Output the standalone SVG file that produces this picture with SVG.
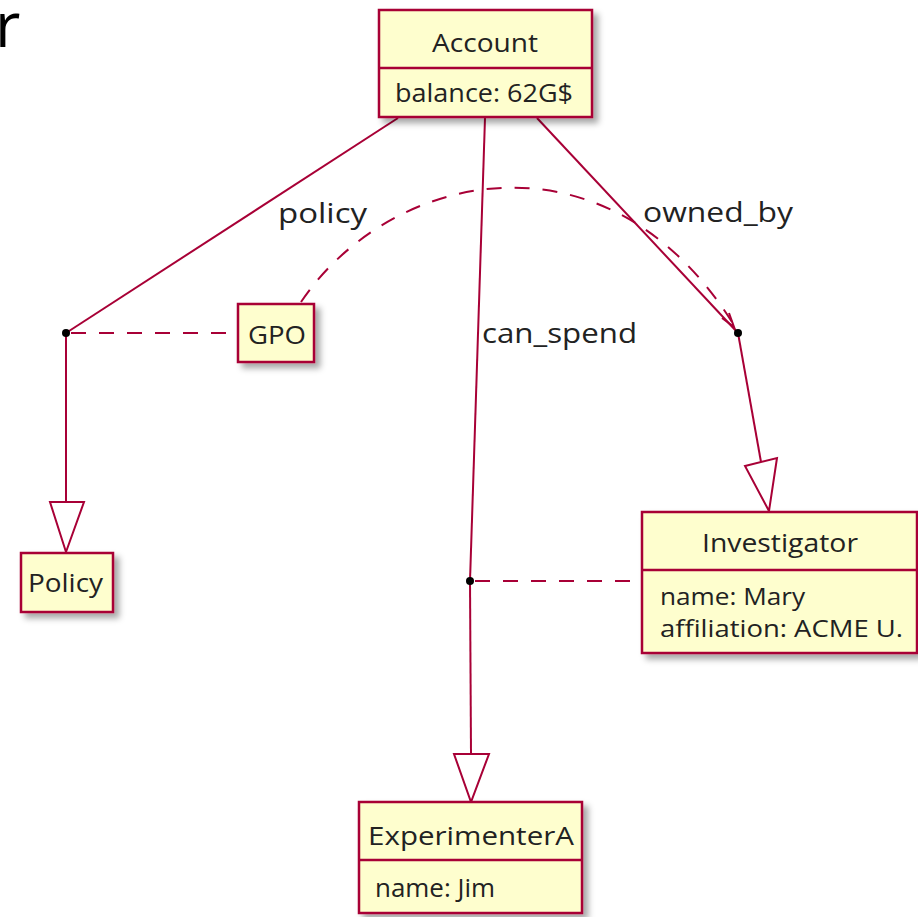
<svg xmlns="http://www.w3.org/2000/svg" width="918" height="917" viewBox="0 0 918 917">
<defs>
<filter id="sh" x="-10%" y="-10%" width="130%" height="140%">
<feDropShadow dx="5" dy="5" stdDeviation="3" flood-color="#000" flood-opacity="0.35"/>
</filter>
</defs>
<style>
.box{fill:#FEFECE;stroke:#A80036;stroke-width:2.5;filter:url(#sh)}
.div{stroke:#A80036;stroke-width:2.5}
.ln{fill:none;stroke:#A80036;stroke-width:2}
.dash{fill:none;stroke:#A80036;stroke-width:2;stroke-dasharray:15,13}
.head{fill:#fff;stroke:#A80036;stroke-width:2;stroke-linejoin:miter}
.t{font-family:"Open Sans","DejaVu Sans",sans-serif;font-size:26px;fill:#222}
.a{font-family:"Open Sans","DejaVu Sans",sans-serif;font-size:23px;fill:#222}
.l{font-family:"Open Sans","DejaVu Sans",sans-serif;font-size:28px;fill:#222}
.dot{fill:#000}
</style>
<rect width="918" height="917" fill="#fff"/>
<text x="-5" y="47" font-family="Open Sans, DejaVu Sans, sans-serif" font-size="62" fill="#000">r</text>
<g id="connectors">
<line class="ln" x1="398" y1="118" x2="66" y2="333"/>
<line class="ln" x1="66" y1="333" x2="66" y2="502"/>
<polygon class="head" points="50,502 84,502 66,552"/>
<line class="dash" x1="71" y1="333" x2="235" y2="333"/>
<line class="ln" x1="485" y1="118" x2="470" y2="581"/>
<line class="ln" x1="470" y1="581" x2="471" y2="754"/>
<polygon class="head" points="454,754 489,754 471,802"/>
<line class="dash" x1="475" y1="581" x2="640" y2="581"/>
<line class="ln" x1="537" y1="118" x2="738" y2="333"/>
<path class="ln" d="M722,318 L734,327 L729,313"/>
<line class="ln" x1="738" y1="333" x2="761" y2="462"/>
<polygon class="head" points="745,466 777,458 769,511"/>
<path class="dash" d="M301,302 C390,170 610,120 737,330"/>
<circle class="dot" cx="66" cy="333" r="4"/>
<circle class="dot" cx="470" cy="581" r="4"/>
<circle class="dot" cx="738" cy="333" r="4"/>
<text class="l" x="278" y="223" textLength="89" lengthAdjust="spacingAndGlyphs">policy</text>
<text class="l" x="482" y="343" textLength="155" lengthAdjust="spacingAndGlyphs">can_spend</text>
<text class="l" x="643" y="222" textLength="150" lengthAdjust="spacingAndGlyphs">owned_by</text>
</g>
<g id="Account">
<rect class="box" x="379" y="10" width="213" height="107"/>
<line class="div" x1="379" y1="68" x2="592" y2="68"/>
<text class="t" x="432" y="52" textLength="106" lengthAdjust="spacingAndGlyphs">Account</text>
<text class="t" x="395" y="102" textLength="178" lengthAdjust="spacingAndGlyphs">balance: 62G$</text>
</g>
<g id="GPO">
<rect class="box" x="238" y="304" width="76" height="58"/>
<text class="t" x="248" y="344" textLength="58" lengthAdjust="spacingAndGlyphs">GPO</text>
</g>
<g id="Policy">
<rect class="box" x="21" y="553" width="92" height="59"/>
<text class="t" x="28" y="592" textLength="75" lengthAdjust="spacingAndGlyphs">Policy</text>
</g>
<g id="Investigator">
<rect class="box" x="642" y="512" width="275" height="141"/>
<line class="div" x1="642" y1="570" x2="917" y2="570"/>
<text class="t" x="702" y="552" textLength="156" lengthAdjust="spacingAndGlyphs">Investigator</text>
<text class="a" x="660" y="605" textLength="145" lengthAdjust="spacingAndGlyphs">name: Mary</text>
<text class="a" x="660" y="637" textLength="243" lengthAdjust="spacingAndGlyphs">affiliation: ACME U.</text>
</g>
<g id="ExperimenterA">
<rect class="box" x="359" y="802" width="223" height="111"/>
<line class="div" x1="359" y1="860" x2="582" y2="860"/>
<text class="t" x="368" y="845" textLength="206" lengthAdjust="spacingAndGlyphs">ExperimenterA</text>
<text class="t" x="375" y="897" textLength="120" lengthAdjust="spacingAndGlyphs">name: Jim</text>
</g>
</svg>
